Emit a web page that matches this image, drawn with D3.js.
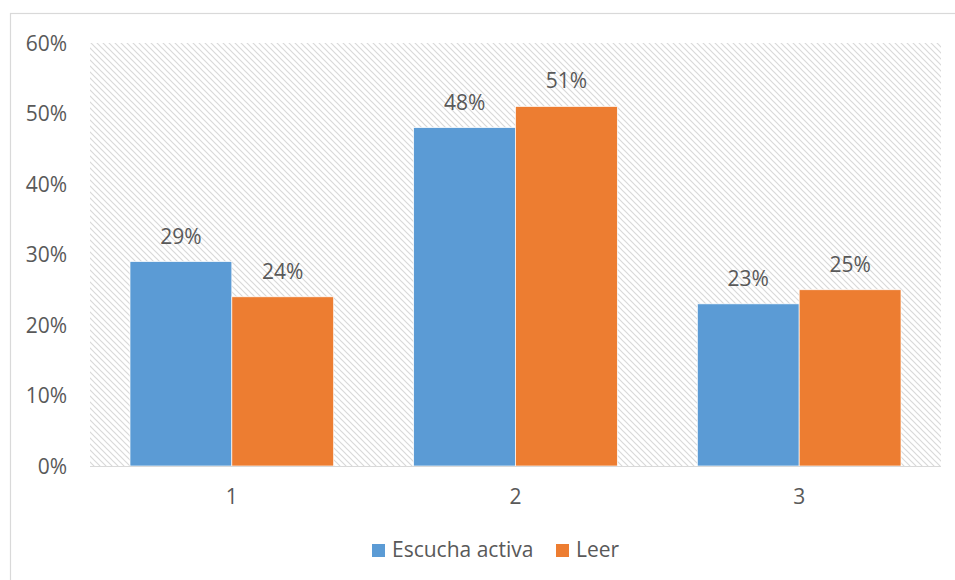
<!DOCTYPE html>
<html>
<head>
<meta charset="utf-8">
<script src="https://cdn.jsdelivr.net/npm/d3@7"></script>
<style>
  body { margin: 0; background: #fff; }
  text { font-family: "Open Sans", Lato, sans-serif; fill: #595959; }
</style>
</head>
<body>
<div class="container"></div>
<script>
let categories = ['1', '2', '3']
let seriesNames = ['Escucha activa', 'Leer']
let escucha = [0.29, 0.48, 0.23]
let leer = [0.24, 0.51, 0.25]
let yTicks = [0, 0.1, 0.2, 0.3, 0.4, 0.5, 0.6]
let colors = ['#5b9bd5', '#ed7d31']

let width = 955, height = 580
let plotLeft = 90, plotRight = 941, plotTop = 43, plotBottom = 466
let fontSize = '21px'

let svg = d3.select('.container')
    .append('svg')
    .attr('width', width)
    .attr('height', height)

// hatch pattern for the plot background
let defs = svg.append('defs')
let pat = defs.append('pattern')
    .attr('id', 'hatch')
    .attr('patternUnits', 'userSpaceOnUse')
    .attr('width', 6)
    .attr('height', 6)
pat.append('path')
    .attr('d', 'M-1,-1 L7,7 M-4,2 L2,8 M4,-2 L8,2')
    .attr('stroke', '#d9d9d9')
    .attr('stroke-width', 1.2)

// chart border
svg.append('rect')
    .attr('x', 10.5)
    .attr('y', 13.5)
    .attr('width', 960)
    .attr('height', 600)
    .attr('fill', 'none')
    .attr('stroke', '#d9d9d9')
    .attr('stroke-width', 1.2)

let x = d3.scaleBand()
    .domain(categories)
    .range([plotLeft, plotRight])
    .paddingInner(0)
    .paddingOuter(0)

let x1 = d3.scaleBand()
    .domain(seriesNames)
    .range([40, x.bandwidth() - 40])

let y = d3.scaleLinear()
    .domain([0, 0.6])
    .range([plotBottom, plotTop])

svg.append('rect')
    .attr('x', plotLeft)
    .attr('y', plotTop)
    .attr('width', plotRight - plotLeft)
    .attr('height', plotBottom - plotTop)
    .attr('fill', 'url(#hatch)')

let yAxis = svg.append('g')
    .attr('transform', 'translate(' + (plotLeft - 23) + ',0)')
    .call(d3.axisLeft(y).tickValues(yTicks).tickFormat(d3.format('.0%')).tickSize(0).tickPadding(0))
yAxis.select('.domain').remove()
yAxis.selectAll('text').style('font-size', fontSize).attr('dy', '0.35em')

let xAxis = svg.append('g')
    .attr('transform', 'translate(0,' + plotBottom + ')')
    .call(d3.axisBottom(x).tickSize(0))
xAxis.select('.domain').remove()
xAxis.selectAll('text').style('font-size', fontSize).attr('y', 38).attr('dy', 0)

let data = []
categories.forEach((c, i) => {
    data.push({cat: c, s: seriesNames[0], v: escucha[i], color: colors[0]})
    data.push({cat: c, s: seriesNames[1], v: leer[i], color: colors[1]})
})

svg.selectAll('.bar')
    .data(data)
  .enter().append('rect')
    .attr('class', 'bar')
    .attr('x', d => x(d.cat) + x1(d.s))
    .attr('y', d => y(d.v))
    .attr('width', x1.bandwidth())
    .attr('height', d => y(0) - y(d.v))
    .attr('fill', d => d.color)
    .attr('stroke', '#fff')
    .attr('stroke-width', 0.7)

svg.selectAll('.lbl')
    .data(data)
  .enter().append('text')
    .attr('class', 'lbl')
    .attr('x', d => x(d.cat) + x1(d.s) + x1.bandwidth() / 2)
    .attr('y', d => y(d.v) - 18)
    .attr('text-anchor', 'middle')
    .style('font-size', fontSize)
    .text(d => d3.format('.0%')(d.v))

svg.append('line')
    .attr('x1', plotLeft)
    .attr('x2', plotRight)
    .attr('y1', plotBottom + 0.5)
    .attr('y2', plotBottom + 0.5)
    .attr('stroke', '#d9d9d9')
    .attr('stroke-width', 1.2)

// legend
let legend = svg.append('g')
let lx = [372, 556]
seriesNames.forEach((n, i) => {
    legend.append('rect')
        .attr('x', lx[i])
        .attr('y', 544)
        .attr('width', 13)
        .attr('height', 13)
        .attr('fill', colors[i])
    legend.append('text')
        .attr('x', lx[i] + 20)
        .attr('y', 557)
        .style('font-size', fontSize)
        .text(n)
})
</script>
</body>
</html>
